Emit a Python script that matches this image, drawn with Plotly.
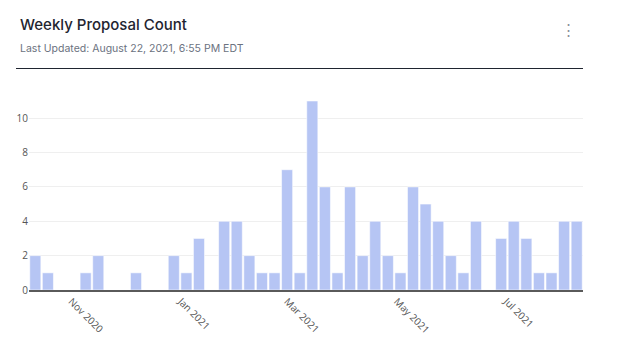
import plotly.graph_objects as go

weeks = [
    "2020-10-12", "2020-10-19", "2020-10-26", "2020-11-02", "2020-11-09", "2020-11-16",
    "2020-11-23", "2020-11-30", "2020-12-07", "2020-12-14", "2020-12-21", "2020-12-28",
    "2021-01-04", "2021-01-11", "2021-01-18", "2021-01-25", "2021-02-01", "2021-02-08",
    "2021-02-15", "2021-02-22", "2021-03-01", "2021-03-08", "2021-03-15", "2021-03-22",
    "2021-03-29", "2021-04-05", "2021-04-12", "2021-04-19", "2021-04-26", "2021-05-03",
    "2021-05-10", "2021-05-17", "2021-05-24", "2021-05-31", "2021-06-07", "2021-06-14",
    "2021-06-21", "2021-06-28", "2021-07-05", "2021-07-12", "2021-07-19", "2021-07-26",
    "2021-08-02", "2021-08-09",
]
proposals = [
    2, 1, 0, 0, 1, 2,
    0, 0, 1, 0, 0, 2,
    1, 3, 0, 4, 4, 2,
    1, 1, 7, 1, 11, 6,
    1, 6, 2, 4, 2, 1,
    6, 5, 4, 2, 1, 4,
    0, 3, 4, 3, 1, 1,
    4, 4,
]
y_ticks = [0, 2, 4, 6, 8, 10]

title_text = "Weekly Proposal Count"
subtitle_text = "Last Updated: August 22, 2021, 6:55 PM EDT"

L, R, T, B = 29, 34, 91, 48
W, H = 617, 338
pw, ph = W - L - R, H - T - B


def px(x):
    return (x - L) / pw


def py(y):
    return (H - B - y) / ph


# empty weeks draw no bar
bar_values = [v if v else None for v in proposals]

fig = go.Figure()
fig.add_trace(go.Bar(
    x=weeks,
    y=bar_values,
    marker=dict(color="#b6c5f4", line=dict(color="rgba(255,255,255,0.55)", width=1)),
    hoverinfo="x+y",
))

fig.update_layout(
    width=W,
    height=H,
    margin=dict(l=L, r=R, t=T, b=B, autoexpand=False),
    paper_bgcolor="white",
    plot_bgcolor="white",
    showlegend=False,
    bargap=0.12,
    font=dict(family='"Open Sans", verdana, arial, sans-serif', size=10, color="#555"),
    xaxis=dict(
        type="date",
        dtick="M2",
        tickformat="%b %Y",
        tickangle=45,
        showgrid=False,
        showline=True,
        linecolor="#5a5a5a",
        linewidth=1.5,
        layer="above traces",
        automargin=False,
        tickfont=dict(size=10, color="#555"),
    ),
    yaxis=dict(
        range=[0, 11.58],
        tickvals=y_ticks,
        showgrid=True,
        gridcolor="#efefef",
        gridwidth=1,
        zeroline=False,
        automargin=False,
        tickfont=dict(size=10, color="#555"),
    ),
    annotations=[
        dict(text=title_text, xref="paper", yref="paper", x=px(17.5), y=py(24),
             xanchor="left", yanchor="middle", showarrow=False,
             font=dict(family="Inter", size=15, color="#1f2530", weight=500)),
        dict(text=subtitle_text, xref="paper", yref="paper", x=px(17.5), y=py(48),
             xanchor="left", yanchor="middle", showarrow=False,
             font=dict(family="Inter", size=10.5, color="#6b7280")),
        dict(text="⋮", xref="paper", yref="paper", x=px(568), y=py(29),
             xanchor="center", yanchor="middle", showarrow=False,
             font=dict(family="Inter", size=15, color="#8a9099")),
    ],
    shapes=[
        dict(type="line", xref="paper", yref="paper", x0=px(16), x1=px(583),
             y0=py(68.5), y1=py(68.5), line=dict(color="#1f2530", width=1.2)),
    ],
)

fig.write_html("out.html")
